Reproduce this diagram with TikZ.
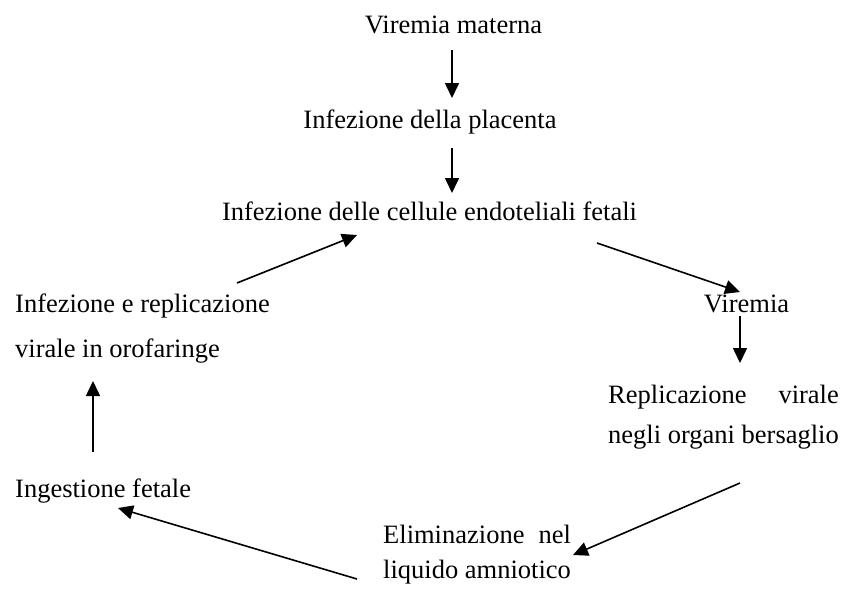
\documentclass[tikz,border=0pt]{standalone}
\usepackage{fontspec}
\setmainfont{Liberation Serif}
\usepackage{calc}
\usetikzlibrary{arrows.meta}

\begin{document}
\begin{tikzpicture}[x=1pt,y=-1pt,
  lbl/.style={inner sep=0pt,font=\fontsize{26.5}{40}\selectfont},
  arr/.style={-{Triangle[length=15pt,width=14pt]},line width=1.6pt}]
 % \draw[help lines] (0,0) grid (842,592);
  \useasboundingbox (0,0) rectangle (842,592);
  \node[lbl,anchor=base] (vm) at (453.5,33)  {Viremia materna};
  \node[lbl,anchor=base] (ip) at (430,128)   {Infezione della placenta};
  \node[lbl,anchor=base] (ic) at (429.5,220) {Infezione delle cellule endoteliali fetali};
  \node[lbl,anchor=base] (vi) at (746.5,312) {Viremia};
  \node[lbl,anchor=base east,align=left] (rv) at (839,443)
    {\makebox[\widthof{negli organi bersaglio}][s]{Replicazione virale}\\negli organi bersaglio};
  \node[lbl,anchor=base west,align=left] (el) at (383,578)
    {\makebox[\widthof{liquido amniotico}][s]{Eliminazione nel}\\[-5pt]liquido amniotico};
  \node[lbl,anchor=base west] (ig) at (15,497) {Ingestione fetale};
  \node[lbl,anchor=base west,align=left] (ir) at (15,357)
    {Infezione e replicazione\\[5pt]virale in orofaringe};

  \draw[arr] ([shift={(-1.5,17)}]vm.base) -- ([shift={(22,-30)}]ip.base);
  \draw[arr] ([shift={(22,20)}]ip.base) -- ([shift={(22.5,-27)}]ic.base);
  \draw[arr] ([shift={(167.5,23)}]ic.base) -- ([shift={(-6.5,-20)}]vi.base);
  \draw[arr] ([shift={(-6.5,4)}]vi.base) -- ([shift={(-99,-80)}]rv.base east);
  \draw[arr] ([shift={(-99,40)}]rv.base east) -- ([shift={(190,-23)}]el.base west);
  \draw[arr] ([shift={(-26,1)}]el.base west) -- ([shift={(103,11)}]ig.base west);
  \draw[arr] ([shift={(78,-45)}]ig.base west) -- ([shift={(78,24)}]ir.base west);
  \draw[arr] ([shift={(222,-74)}]ir.base west) -- ([shift={(-72.5,15)}]ic.base);
\end{tikzpicture}
\end{document}
